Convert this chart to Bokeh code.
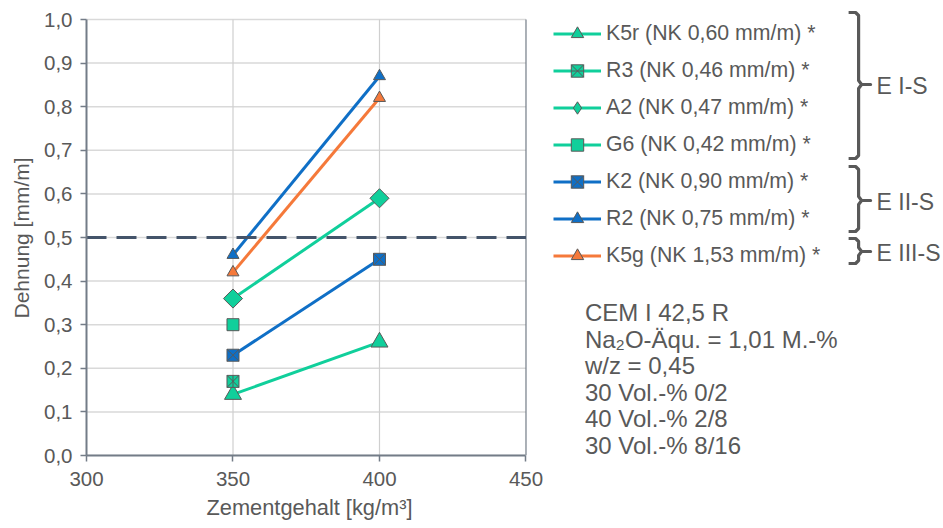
import math
from bokeh.plotting import figure
from bokeh.models import (Range1d, FixedTicker, Legend, LegendItem, Label, Title,
                          ColumnDataSource)
from bokeh.embed import file_html
from bokeh.resources import INLINE

# ---------------- data ----------------
zement_2 = [350, 400]
zement_1 = [350]
k5r = [0.14, 0.26]
r3 = [0.17]
a2 = [0.36, 0.59]
g6 = [0.30]
k2 = [0.23, 0.45]
r2 = [0.46, 0.87]
k5g = [0.42, 0.82]
grenzwert = 0.5

series_names = [
    "K5r (NK 0,60 mm/m) *",
    "R3 (NK 0,46 mm/m) *",
    "A2 (NK 0,47 mm/m) *",
    "G6 (NK 0,42 mm/m) *",
    "K2 (NK 0,90 mm/m) *",
    "R2 (NK 0,75 mm/m) *",
    "K5g (NK 1,53 mm/m) *",
]
x_ticks = [300, 350, 400, 450]
y_ticks = [0.0, 0.1, 0.2, 0.3, 0.4, 0.5, 0.6, 0.7, 0.8, 0.9, 1.0]
y_tick_labels = ["0,0", "0,1", "0,2", "0,3", "0,4", "0,5", "0,6", "0,7", "0,8", "0,9", "1,0"]
x_title = "Zementgehalt [kg/m\u00b3]"
y_title = "Dehnung [mm/m]"
groups = ["E I-S", "E II-S", "E III-S"]
info_lines = ["CEM I 42,5 R", "Na\u2082O-\u00c4qu. = 1,01 M.-%", "w/z = 0,45",
              "30 Vol.-% 0/2", "40 Vol.-% 2/8", "30 Vol.-% 8/16"]

# ---------------- style / layout ----------------
GREEN = "#10CF9B"
BLUE = "#0F6FC6"
ORANGE = "#F5793A"
EDGE = "#595959"
TXT = "#595959"
AXIS = "#737C87"
GRID = "#D9D9D9"
FONT = "Liberation Sans"

W, H = 943, 528
PX_L, PX_R, PX_T, PX_B = 85, 525, 19, 455     # where the axis box sits in the picture
XMIN, XMAX = x_ticks[0], x_ticks[-1]
YMIN, YMAX = y_ticks[0], y_ticks[-1]
kx = (PX_R - PX_L) / (XMAX - XMIN)              # px per kg/m3
ky = (PX_B - PX_T) / (YMAX - YMIN)              # px per mm/m

# frame covers the whole area right of / above the axes so that the
# legend, brackets and notes live inside it
x_end = XMIN + (W - PX_L) / kx
y_end = YMAX + PX_T / ky

def dx(px):
    return XMIN + (px - PX_L) / kx

def dy(py):
    return YMIN + (PX_B - py) / ky

p = figure(width=W, height=H, output_backend="svg", toolbar_location=None,
           x_range=Range1d(XMIN, x_end), y_range=Range1d(YMIN, y_end),
           min_border_left=PX_L, min_border_right=0, min_border_top=0,
           min_border_bottom=H - PX_B)
p.outline_line_color = None
p.background_fill_color = "white"
p.border_fill_color = "white"
p.xgrid.visible = False
p.ygrid.visible = False

for ax in (p.xaxis[0], p.yaxis[0]):
    ax.axis_line_color = AXIS
    ax.axis_line_width = 2
    ax.major_tick_line_color = AXIS
    ax.major_tick_line_width = 1.5
    ax.major_tick_out = 6
    ax.major_tick_in = 0
    ax.minor_tick_line_color = None
    ax.major_label_text_font = FONT
    ax.major_label_text_font_size = "20.5px"
    ax.major_label_text_color = TXT
p.xaxis.bounds = (XMIN, XMAX)
p.yaxis.bounds = (YMIN, YMAX)
p.xaxis.ticker = FixedTicker(ticks=x_ticks)
p.yaxis.ticker = FixedTicker(ticks=y_ticks)
p.yaxis.major_label_overrides = {t: l for t, l in zip(y_ticks, y_tick_labels)}
p.xaxis.major_label_standoff = 10
p.yaxis.major_label_standoff = 8

# axis titles positioned along the axis box (not the whole frame)
p.add_layout(Title(text=x_title, align="left", offset=205 - PX_L, standoff=10,
                   vertical_align="middle", text_font=FONT, text_font_size="21.8px",
                   text_font_style="normal", text_color=TXT), "below")
p.add_layout(Title(text=y_title, align="left", offset=PX_B - 318, standoff=16,
                   vertical_align="middle", text_font=FONT, text_font_size="21px",
                   text_font_style="normal", text_color=TXT), "left")

# grid lines restricted to the axis box
n = len(y_ticks)
p.segment(x0=[XMIN] * n, x1=[XMAX] * n, y0=y_ticks, y1=y_ticks,
          line_color=GRID, line_width=1.5)
inner_x = x_ticks[1:-1]
p.segment(x0=inner_x, x1=inner_x, y0=[YMIN] * len(inner_x), y1=[YMAX] * len(inner_x),
          line_color="#CFCFCF", line_width=1.2)
p.segment(x0=[XMAX], x1=[XMAX], y0=[YMIN], y1=[YMAX], line_color=AXIS, line_width=1.2)

# ---------------- series ----------------
items = []

def add_series(name, xs, ys, color, markers, legend_marker=None):
    src = ColumnDataSource(dict(x=xs, y=ys))
    rs = [p.line("x", "y", source=src, line_color=color, line_width=3)]
    for m in markers:
        fill = color if m.get("fill", True) else None
        r = p.scatter("x", "y", source=src, marker=m["marker"], size=m["size"],
                      angle=m.get("angle", 0.0), fill_color=fill,
                      line_color=EDGE, line_width=1)
        if legend_marker is None:
            rs.append(r)
    if legend_marker is not None:
        proxy = p.scatter("x", "y", source=src, marker=legend_marker, size=12,
                          fill_color=color, line_color=EDGE, line_width=1, visible=False)
        rs.append(proxy)
    items.append(LegendItem(label=name, renderers=rs))

add_series(series_names[0], zement_2, k5r, GREEN, [dict(marker="triangle", size=17)])
add_series(series_names[1], zement_1, r3, GREEN, [dict(marker="square_x", size=12),
                                                   dict(marker="dash", size=12, angle=math.pi / 2, fill=False)])
add_series(series_names[2], zement_2, a2, GREEN, [dict(marker="square", size=13.5, angle=math.pi / 4)],
           legend_marker="diamond")
add_series(series_names[3], zement_1, g6, GREEN, [dict(marker="square", size=12)])
add_series(series_names[4], zement_2, k2, BLUE, [dict(marker="square_x", size=12)])
add_series(series_names[5], zement_2, r2, BLUE, [dict(marker="triangle", size=12)])
add_series(series_names[6], zement_2, k5g, ORANGE, [dict(marker="triangle", size=12)])

# limit line
p.segment(x0=[XMIN], x1=[XMAX], y0=[grenzwert], y1=[grenzwert],
          line_color="#44546A", line_width=3, line_dash="20 10")

# ---------------- legend ----------------
ROW, GAP, NROW = 31, 6, len(items)
leg_h = NROW * ROW + (NROW - 1) * GAP
leg_top_px = 34 - ROW / 2
legend = Legend(items=items, location=(552 - PX_L, round(PX_B - leg_top_px - leg_h)),
                padding=0, margin=0,
                glyph_width=48, glyph_height=ROW, label_height=ROW, spacing=GAP,
                label_standoff=5, label_text_font=FONT, label_text_font_size="21.3px",
                label_text_color=TXT, border_line_color=None, background_fill_alpha=0)
p.add_layout(legend, "center")

# ---------------- brackets ----------------
def bracket(top, bottom, mid, xl=848, xv=858, xt=870):
    pts = [(xl, top), (xv - 3, top), (xv, top + 3), (xv, mid - 4), (xv + 3, mid),
           (xt, mid), (xv + 3, mid), (xv, mid + 4), (xv, bottom - 3), (xv - 3, bottom),
           (xl, bottom)]
    p.line([dx(a) for a, _ in pts], [dy(b) for _, b in pts], line_color=EDGE,
           line_width=3.2, line_join="round")

bracket_spans = [(12, 158, 84), (166, 231, 200), (238, 263, 251)]
for g, (t, b, m) in zip(groups, bracket_spans):
    bracket(t, b, m)
    p.add_layout(Label(x=dx(876), y=dy(m + 1), text=g,
                       text_font=FONT, text_font_size="23px", text_color=TXT,
                       text_baseline="middle", text_align="left"))

# ---------------- notes ----------------
for i, line in enumerate(info_lines):
    mid = 312 + i * 26.6
    p.add_layout(Label(x=dx(584), y=dy(mid), text=line, text_font=FONT,
                       text_font_size="24px", text_color=TXT,
                       text_baseline="middle", text_align="left"))

open("out.html", "w").write(file_html(p, INLINE))
